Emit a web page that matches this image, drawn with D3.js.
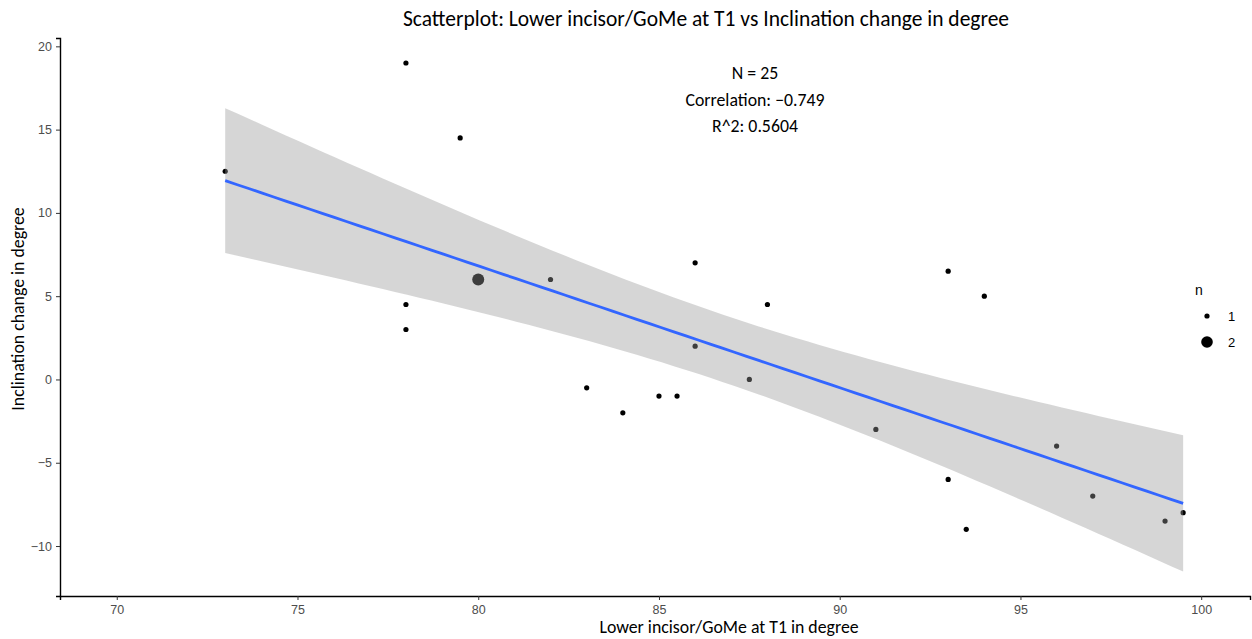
<!DOCTYPE html>
<html>
<head>
<meta charset="utf-8">
<script src="https://cdn.jsdelivr.net/npm/d3@7"></script>
<style>
  body { margin: 0; background: #fff; }
  svg { display: block; }
</style>
</head>
<body>
<svg width="1252" height="639"></svg>
<script>
// data
var xVals = [73, 78, 79.5, 78, 78, 80, 82, 83, 84, 85, 85.5, 86, 86, 87.5, 88, 91, 93, 94, 93, 93.5, 96, 97, 99, 99.5];
var yVals = [12.5, 19, 14.5, 4.5, 3, 6, 6, -0.5, -2, -1, -1, 7, 2, 0, 4.5, -3, 6.5, 5, -6, -9, -4, -7, -8.5, -8];
var counts = [1, 1, 1, 1, 1, 2, 1, 1, 1, 1, 1, 1, 1, 1, 1, 1, 1, 1, 1, 1, 1, 1, 1, 1];
var xTicks = [70, 75, 80, 85, 90, 95, 100];
var yTicks = [-10, -5, 0, 5, 10, 15, 20];
var statLines = ["N = 25", "Correlation: \u22120.749", "R^2: 0.5604"];

var svg = d3.select("svg");

var x = d3.scaleLinear().domain([68.43, 101.35]).range([60, 1250]);
var y = d3.scaleLinear().domain([-13, 20.5]).range([596, 38]);

// expand counted points to raw rows for the fit
var rows = [];
xVals.forEach(function (v, i) {
    for (var k = 0; k < counts[i]; k++) rows.push([v, yVals[i]]);
});
var n = rows.length;
var mx = d3.mean(rows, d => d[0]), my = d3.mean(rows, d => d[1]);
var sxx = d3.sum(rows, d => (d[0] - mx) * (d[0] - mx));
var sxy = d3.sum(rows, d => (d[0] - mx) * (d[1] - my));
var b = sxy / sxx, a = my - b * mx;
var sse = d3.sum(rows, d => Math.pow(d[1] - (a + b * d[0]), 2));
var s = Math.sqrt(sse / (n - 2));
var tq = 2.069; // t(0.975, 23)

var xs = d3.range(80).map(i => 73 + (99.5 - 73) * i / 79);
var fit = xs.map(function (v) {
    var f = a + b * v;
    var se = s * Math.sqrt(1 / n + (v - mx) * (v - mx) / sxx);
    return { x: v, y: f, lo: f - tq * se, hi: f + tq * se };
});

var g = svg.append("g");

// points (under the band, like ggplot)
g.selectAll("circle.pt")
    .data(xVals)
    .enter().append("circle")
    .attr("class", "pt")
    .attr("cx", d => x(d))
    .attr("cy", (d, i) => y(yVals[i]))
    .attr("r", (d, i) => counts[i] > 1 ? 6 : 2.6)
    .attr("fill", "#000");

// confidence band
g.append("path")
    .datum(fit)
    .attr("d", d3.area().x(d => x(d.x)).y0(d => y(d.lo)).y1(d => y(d.hi)))
    .attr("fill", "#999999")
    .attr("fill-opacity", 0.4);

// fitted line
g.append("path")
    .datum(fit)
    .attr("d", d3.line().x(d => x(d.x)).y(d => y(d.y)))
    .attr("fill", "none")
    .attr("stroke", "#3366FF")
    .attr("stroke-width", 2.8);

// axes
var xAxis = svg.append("g")
    .attr("transform", "translate(0,596)")
    .call(d3.axisBottom(x).tickValues(xTicks).tickSize(4).tickPadding(5));
var yAxis = svg.append("g")
    .attr("transform", "translate(60,0)")
    .call(d3.axisLeft(y).tickValues(yTicks).tickSize(4).tickPadding(4)
        .tickFormat(d => d < 0 ? "\u2212" + Math.abs(d) : d));
[xAxis, yAxis].forEach(function (ax) {
    ax.select(".domain").attr("stroke", "#000").attr("stroke-width", 1.4);
    ax.selectAll(".tick line").attr("stroke", "#333");
    ax.selectAll(".tick text")
        .attr("fill", "#4d4d4d")
        .style("font-family", "Liberation Sans, Arial, sans-serif")
        .style("font-size", "12.5px");
});

var labelFont = "Carlito, Calibri, sans-serif";

// title
svg.append("text")
    .attr("x", 706).attr("y", 26)
    .attr("text-anchor", "middle")
    .style("font-family", labelFont)
    .style("font-size", "21.5px")
    .text("Scatterplot: Lower incisor/GoMe at T1 vs Inclination change in degree");

// axis titles
svg.append("text")
    .attr("x", 729).attr("y", 633)
    .attr("text-anchor", "middle")
    .style("font-family", labelFont)
    .style("font-size", "17.8px")
    .text("Lower incisor/GoMe at T1 in degree");
svg.append("text")
    .attr("transform", "translate(24,309) rotate(-90)")
    .attr("text-anchor", "middle")
    .style("font-family", labelFont)
    .style("font-size", "17.8px")
    .text("Inclination change in degree");

// stats annotation
svg.selectAll("text.stat")
    .data(statLines)
    .enter().append("text")
    .attr("class", "stat")
    .attr("x", 755)
    .attr("y", (d, i) => 79 + i * 26.5)
    .attr("text-anchor", "middle")
    .style("font-family", labelFont)
    .style("font-size", "17.8px")
    .text(d => d);

// legend
var leg = svg.append("g").attr("transform", "translate(1193,0)");
leg.append("text")
    .attr("x", 2).attr("y", 295)
    .style("font-family", "Liberation Sans, Arial, sans-serif")
    .style("font-size", "14px")
    .text("n");
var legVals = [1, 2];
leg.selectAll("circle")
    .data(legVals)
    .enter().append("circle")
    .attr("cx", 14)
    .attr("cy", (d, i) => 316 + i * 26)
    .attr("r", d => d > 1 ? 5.8 : 2.6)
    .attr("fill", "#000");
leg.selectAll("text.lab")
    .data(legVals)
    .enter().append("text")
    .attr("class", "lab")
    .attr("x", 35)
    .attr("y", (d, i) => 321 + i * 26)
    .style("font-family", "Liberation Sans, Arial, sans-serif")
    .style("font-size", "13px")
    .text(d => d);
</script>
</body>
</html>
